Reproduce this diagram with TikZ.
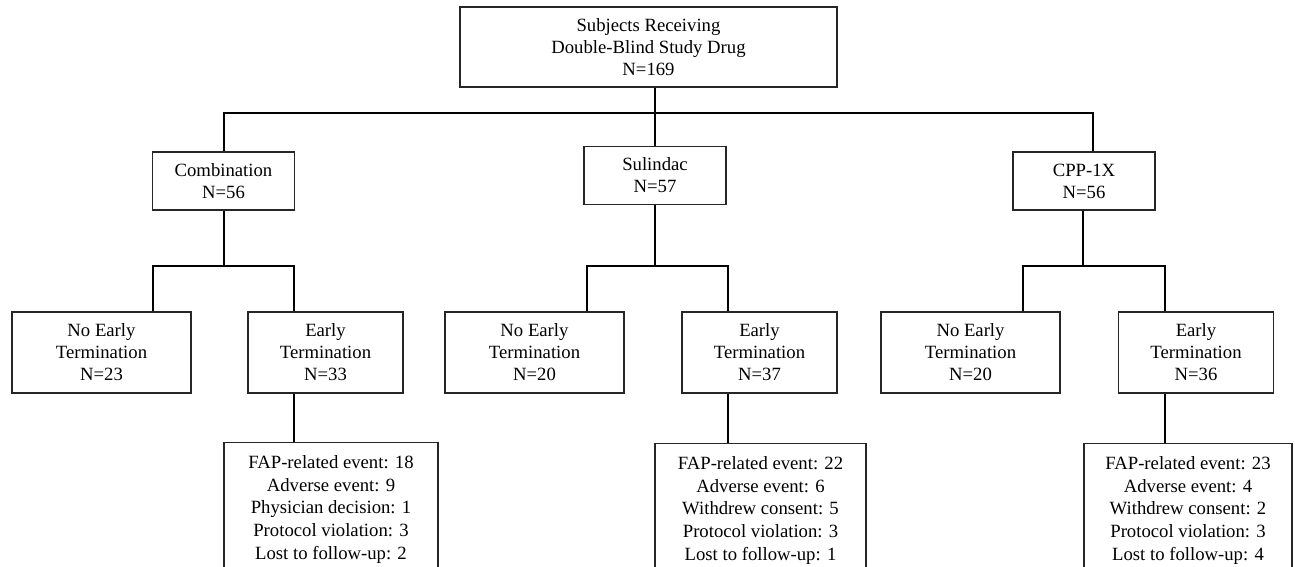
\documentclass[tikz,border=0pt]{standalone}
\usepackage{fontspec}
\setmainfont{Liberation Serif}
\usetikzlibrary{positioning}
\newcommand{\boxfont}{\fontsize{18.7}{22}\selectfont}

\begin{document}
\begin{tikzpicture}[x=1pt, y=-1pt, line width=1.1pt,
  box/.style={draw=black!85, inner sep=0pt, align=center, font=\boxfont},
  arm/.style={box, minimum width=142pt, minimum height=58pt},
  net/.style={box, minimum width=179pt, minimum height=81pt},
  et/.style={box, minimum width=155pt, minimum height=81pt},
  why/.style={box, anchor=north, inner ysep=13pt, font={\fontsize{18.7}{22.7}\selectfont}}]
\clip (0,0) rectangle (1295,566);
\node[box, minimum width=377pt, minimum height=80pt] (all) at (648.5,47) {Subjects Receiving\\Double-Blind Study Drug\\N=169};
\node[arm] (comb) at (223.5,181) {Combination\\N=56};
\node[arm] (suli) at (655,175.5) {Sulindac\\N=57};
\node[arm] (cpp) at (1084,181) {CPP-1X\\N=56};
\node[net] (combnet) at (101.5,352.5) {No Early\\Termination\\N=23};
\node[et] (combet) at (325.5,352.5) {Early\\Termination\\N=33};
\node[net] (sulinet) at (534.5,352.5) {No Early\\Termination\\N=20};
\node[et] (sulet) at (759.5,352.5) {Early\\Termination\\N=37};
\node[net] (cppnet) at (970.5,352.5) {No Early\\Termination\\N=20};
\node[et] (cppet) at (1196,352.5) {Early\\Termination\\N=36};
\node[why, minimum width=214pt] (combwhy) at (331,442) {FAP-related event: 18\\Adverse event: 9\\Physician decision: 1\\Protocol violation: 3\\Lost to follow-up: 2};
\node[why, minimum width=211pt] (suliwhy) at (760.5,443) {FAP-related event: 22\\Adverse event: 6\\Withdrew consent: 5\\Protocol violation: 3\\Lost to follow-up: 1};
\node[why, minimum width=208pt] (cppwhy) at (1188,443) {FAP-related event: 23\\Adverse event: 4\\Withdrew consent: 2\\Protocol violation: 3\\Lost to follow-up: 4};
% top split
\coordinate (hub) at (655,113); \coordinate (topL) at (224,113); \coordinate (topR) at (1093,113);
\draw (all.south -| hub) -- (hub); \draw (suli.north) -- (hub);
\draw (comb.north -| topL) -- (topL) -- (topR) -- (cpp.north -| topR);
% arm splits
\coordinate (combL) at (153,266); \coordinate (combR) at (294,266); \coordinate (combdrop) at (224,266);
\coordinate (suliL) at (587,266); \coordinate (suliR) at (728,266);
\coordinate (cppL) at (1023,266); \coordinate (cppR) at (1165,266); \coordinate (cppdrop) at (1083,266);
\draw (comb.south -| combdrop) -- (combdrop);
\draw (suli.south) -- (suli.south |- suliL);
\draw (cpp.south -| cppdrop) -- (cppdrop);
\draw (combnet.north -| combL) -- (combL) -- (combR) -- (combet.north -| combR);
\draw (sulinet.north -| suliL) -- (suliL) -- (suliR) -- (sulet.north -| suliR);
\draw (cppnet.north -| cppL) -- (cppL) -- (cppR) -- (cppet.north -| cppR);
% reasons
\draw (combet.south -| combR) -- (combwhy.north -| combR);
\draw (sulet.south -| suliR) -- (suliwhy.north -| suliR);
\draw (cppet.south -| cppR) -- (cppwhy.north -| cppR);
\end{tikzpicture}
\end{document}
